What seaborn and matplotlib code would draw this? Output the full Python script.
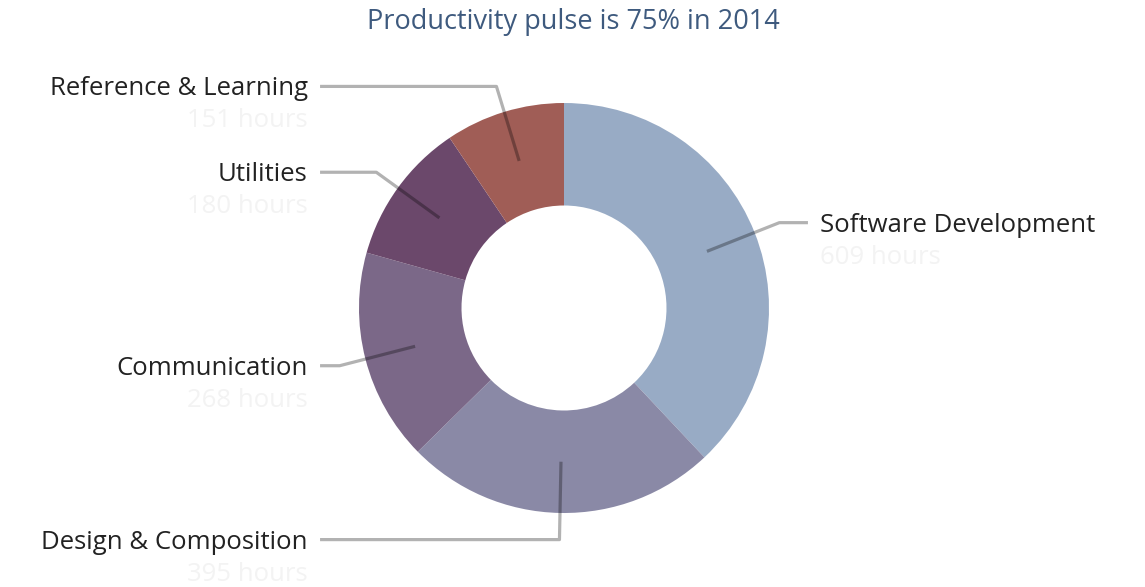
"""Productivity pulse donut chart."""

import matplotlib

matplotlib.use("Agg")
import matplotlib.pyplot as plt
import numpy as np
import seaborn as sns

CATEGORIES: list[str] = [
    "Software Development",
    "Design & Composition",
    "Communication",
    "Utilities",
    "Reference & Learning",
]
HOURS: list[int] = [609, 395, 268, 180, 151]
COLORS: list[str] = ["#98abc5", "#8a89a6", "#7b6888", "#6b486b", "#a05d56"]
TITLE = "Productivity pulse is 75% in 2014"


def main() -> None:
    sns.set_theme(style="white")
    plt.rcParams["font.family"] = ["Open Sans", "DejaVu Sans"]

    fig = plt.figure(figsize=(11.45, 5.87), dpi=100)
    ax = fig.add_axes([0, 0, 1, 1])

    palette = sns.color_palette(COLORS)
    wedges, _ = ax.pie(
        HOURS,
        colors=palette,
        startangle=90,
        counterclock=False,
        radius=1.0,
        wedgeprops={"width": 0.5, "linewidth": 0},
    )
    # pie() resets the limits, so place the donut afterwards
    ax.set_xlim(-564 / 205, (1145 - 564) / 205)
    ax.set_ylim(-(587 - 308) / 205, 308 / 205)
    ax.set_aspect("equal")
    ax.axis("off")

    for wedge, name, hours in zip(wedges, CATEGORIES, HOURS):
        mid = np.deg2rad((wedge.theta1 + wedge.theta2) / 2)
        inner = 0.75 * np.array([np.cos(mid), np.sin(mid)])
        elbow = 1.13 * np.array([np.cos(mid), np.sin(mid)])
        side = 1 if np.cos(mid) > 0 else -1
        end_x = 1.19 * side
        ax.plot(
            [inner[0], elbow[0], end_x],
            [inner[1], elbow[1], elbow[1]],
            color="black",
            alpha=0.3,
            linewidth=2.3,
            solid_capstyle="butt",
            zorder=5,
        )
        text_x = 1.25 * side
        ha = "left" if side > 0 else "right"
        ax.text(text_x, elbow[1] - 9 / 205, name, ha=ha, va="baseline",
                fontsize=18.5, color="#222222")
        ax.text(text_x, elbow[1] - 41 / 205, f"{hours} hours", ha=ha, va="baseline",
                fontsize=18.5, color="#f3f3f3")

    fig.text(573 / 1145, 1 - 22 / 587, TITLE, ha="center", va="center",
             fontsize=19.5, color="#3e5a7e")

    fig.savefig("out.png", dpi=100)


if __name__ == "__main__":
    main()
